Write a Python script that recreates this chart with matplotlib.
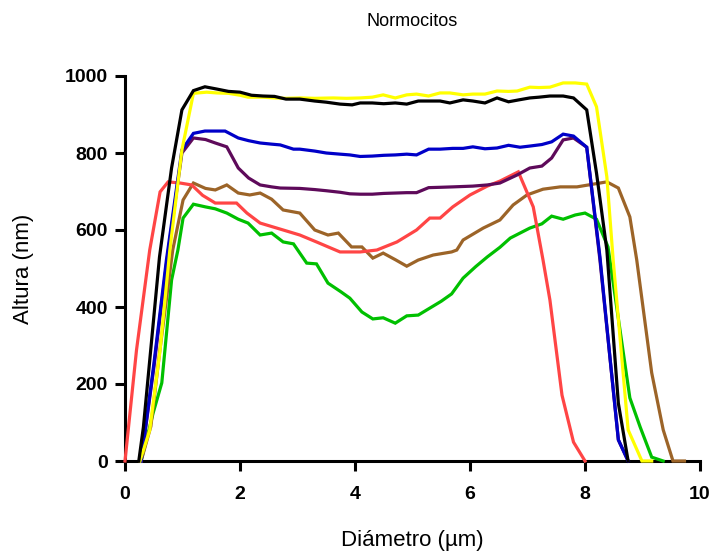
import matplotlib
matplotlib.use("Agg")
import matplotlib.pyplot as plt

plt.rcParams['font.family'] = ['Liberation Sans', 'DejaVu Sans']

# ---- data (diameter in µm, height in nm) ----
black_x = [0.24, 0.32, 0.45, 0.6, 0.81, 0.99, 1.19, 1.39, 1.6, 1.8, 2.0, 2.2, 2.4, 2.6, 2.8, 3.04, 3.3, 3.5, 3.74,
           3.95, 4.09, 4.3, 4.5, 4.7, 4.9, 5.1, 5.3, 5.48, 5.65, 5.88, 6.05, 6.26, 6.47, 6.67, 6.85, 7.04, 7.2,
           7.39, 7.62, 7.8, 8.03, 8.2, 8.38, 8.58, 8.75]
black_y = [0, 88, 293, 530, 761, 912, 962, 972, 966, 960, 958, 950, 948, 947, 940, 940, 935, 932, 927,
           925, 930, 930, 928, 930, 927, 935, 935, 935, 930, 938, 935, 930, 943, 933, 938, 943, 945,
           948, 948, 943, 912, 748, 548, 150, 0]

yellow_x = [0.26, 0.43, 0.61, 0.78, 0.99, 1.19, 1.42, 1.6, 1.8, 2.0, 2.14, 2.4, 2.6, 2.8, 3.04, 3.3, 3.62, 3.85,
            4.09, 4.3, 4.49, 4.7, 4.9, 5.07, 5.28, 5.48, 5.65, 5.88, 6.05, 6.26, 6.47, 6.67, 6.82, 7.04, 7.2,
            7.39, 7.62, 7.83, 8.03, 8.2, 8.38, 8.49, 8.75, 8.99, 9.16]
yellow_y = [0, 80, 288, 548, 808, 955, 958, 956, 955, 950, 945, 945, 943, 942, 943, 942, 943, 942,
            943, 945, 951, 943, 951, 953, 948, 956, 956, 951, 953, 953, 961, 960, 961, 971, 970,
            971, 982, 982, 979, 920, 738, 522, 81, 0, 0]

blue_x = [0.28, 0.5, 0.72, 0.99, 1.19, 1.39, 1.57, 1.74, 1.97, 2.15, 2.35, 2.55, 2.7, 2.93, 3.04, 3.3, 3.5, 3.74,
          3.91, 4.09, 4.3, 4.5, 4.7, 4.9, 5.07, 5.28, 5.48, 5.7, 5.88, 6.05, 6.26, 6.47, 6.67, 6.87, 7.04, 7.25,
          7.42, 7.62, 7.8, 8.03, 8.26, 8.42, 8.58, 8.75]
blue_y = [0, 250, 522, 808, 851, 857, 857, 857, 839, 832, 826, 823, 821, 810, 810, 805, 800, 797,
          795, 791, 792, 794, 795, 797, 795, 810, 810, 812, 812, 816, 811, 813, 820, 815, 818, 822,
          829, 849, 844, 815, 530, 290, 55, 0]

purple_x = [0.28, 0.5, 0.72, 0.99, 1.19, 1.4, 1.57, 1.77, 1.97, 2.15, 2.35, 2.55, 2.7, 3.04, 3.3, 3.5, 3.74, 3.91,
            4.09, 4.3, 4.5, 4.7, 4.9, 5.07, 5.28, 5.5, 5.7, 6.05, 6.3, 6.52, 6.82, 7.04, 7.25, 7.42, 7.62, 7.8,
            8.03, 8.26, 8.58, 8.75]
purple_y = [0, 240, 510, 800, 839, 835, 826, 816, 761, 735, 717, 712, 709, 708, 705, 702, 698, 694,
            693, 693, 695, 696, 697, 697, 710, 711, 712, 714, 717, 722, 743, 761, 766, 787, 834, 839,
            815, 522, 55, 0]

red_x = [0.0, 0.2, 0.43, 0.61, 0.75, 0.96, 1.16, 1.35, 1.57, 1.94, 2.12, 2.35, 2.64, 3.04, 3.33, 3.55, 3.74, 4.09,
         4.38, 4.73, 5.07, 5.3, 5.48, 5.7, 6.0, 6.3, 6.52, 6.84, 7.1, 7.27, 7.39, 7.6, 7.8, 8.0]
red_y = [0, 288, 548, 699, 725, 722, 717, 690, 670, 670, 644, 618, 605, 587, 569, 555, 543, 543,
         548, 569, 600, 631, 631, 660, 691, 714, 727, 751, 660, 522, 418, 171, 49, 0]

brown_x = [0.28, 0.45, 0.6, 0.83, 1.01, 1.19, 1.4, 1.57, 1.77, 1.97, 2.17, 2.35, 2.55, 2.75, 3.04, 3.3, 3.53, 3.71,
           3.94, 4.12, 4.31, 4.49, 4.7, 4.9, 5.1, 5.36, 5.68, 5.77, 5.88, 6.23, 6.52, 6.75, 6.99, 7.27, 7.57,
           7.86, 8.26, 8.38, 8.58, 8.78, 8.9, 9.16, 9.36, 9.53, 9.73]
brown_y = [0, 90, 280, 548, 678, 722, 708, 704, 717, 696, 691, 696, 680, 652, 644, 600, 587, 592,
           556, 556, 527, 540, 523, 506, 522, 535, 543, 548, 574, 605, 626, 665, 691, 706, 712,
           712, 722, 725, 709, 634, 522, 229, 81, 0, 0]

green_x = [0.28, 0.49, 0.64, 0.81, 0.92, 1.01, 1.19, 1.4, 1.57, 1.77, 1.97, 2.14, 2.35, 2.55, 2.75, 2.93, 3.04,
           3.16, 3.33, 3.53, 3.75, 3.91, 4.12, 4.31, 4.49, 4.7, 4.9, 5.1, 5.3, 5.5, 5.68, 5.88, 6.1, 6.3, 6.52,
           6.7, 7.04, 7.25, 7.42, 7.62, 7.83, 8.0, 8.2, 8.4, 8.58, 8.78, 8.96, 9.16, 9.36]
green_y = [0, 125, 203, 470, 548, 631, 667, 660, 655, 644, 628, 618, 587, 592, 569, 564, 540,
           514, 512, 462, 440, 423, 387, 369, 372, 358, 377, 379, 397, 415, 434, 475, 505, 530, 555,
           579, 605, 616, 636, 628, 639, 644, 628, 556, 370, 164, 88, 10, 0]

title = "Normocitos"
xlabel = "Diámetro (µm)"
ylabel = "Altura (nm)"
xticks = [0, 2, 4, 6, 8, 10]
yticks = [0, 200, 400, 600, 800, 1000]

series = [
    (green_x, green_y, "#00c000"),
    (brown_x, brown_y, "#9c6428"),
    (red_x, red_y, "#ff4545"),
    (purple_x, purple_y, "#5e0a5a"),
    (blue_x, blue_y, "#0000c8"),
    (yellow_x, yellow_y, "#ffff00"),
    (black_x, black_y, "#000000"),
]

fig = plt.figure(figsize=(7.16, 5.56), dpi=100)
ax = fig.add_axes([125 / 716, 1 - 461 / 556, 575 / 716, 385 / 556])

for i, (xs, ys, c) in enumerate(series):
    ax.plot(xs, ys, color=c, lw=2.3, clip_on=False, zorder=5 + i,
            solid_joinstyle='miter')

ax.set_xlim(0, 10)
ax.set_ylim(0, 1000)
ax.set_xticks(xticks)
ax.set_yticks(yticks)
for s in ['top', 'right']:
    ax.spines[s].set_visible(False)
for s in ['left', 'bottom']:
    ax.spines[s].set_linewidth(2.2)
    ax.spines[s].set_zorder(3)
ax.tick_params(axis='both', length=7.2, width=2.2, labelsize=14)
ax.tick_params(axis='x', pad=11)
ax.tick_params(axis='y', pad=5)
for lab in ax.get_xticklabels() + ax.get_yticklabels():
    lab.set_fontweight('bold')

ax.set_title(title, fontsize=13, pad=36)
ax.set_xlabel(xlabel, fontsize=16, labelpad=19)
ax.set_ylabel(ylabel, fontsize=16, labelpad=22)

fig.savefig("out.png", dpi=100)
